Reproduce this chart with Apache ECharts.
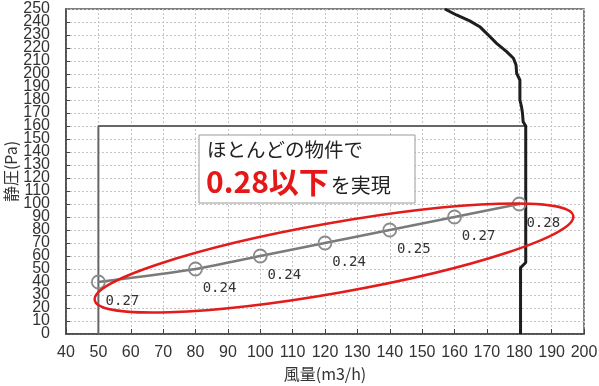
<!DOCTYPE html>
<html><head><meta charset="utf-8">
<script src="https://cdn.jsdelivr.net/npm/echarts@6/dist/echarts.min.js"></script>
<style>html,body{margin:0;padding:0;background:#fff}#c{width:599px;height:386px}</style>
</head><body><div id="c"></div>
<script>
// ---- data ----
const airflow = [50, 80, 100, 120, 140, 160, 180];
const staticPressure = [40, 50, 60, 70, 80, 90, 100];
const ratioLabels = ['0.27', '0.24', '0.24', '0.24', '0.25', '0.27', '0.28'];
const fanCurveX = [157.0, 160.6, 164.7, 167.8, 169.9, 173.0, 176.1, 178.2, 179.0, 179.2, 180.2, 180.2, 180.7, 181.0, 181.2, 182.0, 182.0, 180.4, 180.4];
const fanCurveY = [250, 245.4, 240.9, 236.4, 231.3, 223.6, 217.2, 212.1, 207, 200.5, 195.4, 180, 174.8, 169.8, 163.3, 160, 55, 51, 0];
const rangeX = [50, 50, 182];
const rangeY = [0, 160, 160];
const xMin = 40, xMax = 200, xStep = 10;
const yMin = 0, yMax = 250, yStep = 10;
const xName = '風量(m3/h)';
const yName = '静圧(Pa)';
const noteLine1 = 'ほとんどの物件で';
const noteHighlight = '0.28以下';
const noteTail = 'を実現';

const zip = (a, b) => a.map((v, i) => [v, b[i]]);
const tickFont = "'Liberation Sans Narrow', 'Liberation Sans', sans-serif";
const jpFont = "'Noto Sans CJK JP', sans-serif";
const yLabelStyle = {fontFamily: tickFont, fontSize: 16, color: '#333', margin: 16};

const chart = echarts.init(document.getElementById('c'), null, {renderer: 'canvas'});
chart.setOption({
  animation: false,
  backgroundColor: '#fff',
  grid: {left: 66, right: 15, top: 9, bottom: 52, show: true, borderColor: '#555', borderWidth: 1.5,
    backgroundColor: 'transparent', containLabel: false, outerBoundsMode: 'none'},
  xAxis: {
    type: 'value', min: xMin, max: xMax, interval: xStep,
    name: xName, nameLocation: 'middle', nameGap: 32,
    nameTextStyle: {fontFamily: jpFont, fontSize: 16, color: '#333'},
    axisLine: {lineStyle: {color: '#444', width: 1.5}},
    axisTick: {inside: true, length: 5, lineStyle: {color: '#444'}},
    axisLabel: {fontFamily: tickFont, fontSize: 16, color: '#333', margin: 11, showMinLabel: true, showMaxLabel: true, hideOverlap: false},
    splitLine: {lineStyle: {color: '#c4c4c4', type: [2, 2], width: 1}}
  },
  yAxis: [{
    type: 'value', min: yMin, max: yMax, interval: yStep,
    name: yName, nameLocation: 'middle', nameGap: 47, nameMoveOverlap: false,
    nameTextStyle: {fontFamily: jpFont, fontSize: 16, color: '#333'},
    axisLine: {show: true, lineStyle: {color: '#444', width: 1.5}},
    axisTick: {show: true, inside: true, length: 4, lineStyle: {color: '#444'}},
    axisLabel: Object.assign({showMinLabel: false, showMaxLabel: false, hideOverlap: false}, yLabelStyle),
    splitLine: {lineStyle: {color: '#c4c4c4', type: [2, 2], width: 1}}
  }, {
    type: 'value', min: yMin, max: yMax, interval: yMax - yMin, position: 'left',
    axisLine: {show: false}, axisTick: {show: false}, splitLine: {show: false},
    axisLabel: Object.assign({showMinLabel: true, showMaxLabel: true, hideOverlap: false}, yLabelStyle)
  }],
  series: [
    {
      type: 'line', data: zip(rangeX, rangeY), symbol: 'none', z: 2,
      lineStyle: {color: '#666', width: 2}
    },
    {
      type: 'line', data: zip(fanCurveX, fanCurveY), symbol: 'none', z: 3,
      lineStyle: {color: '#1e1e1e', width: 3}
    },
    {
      type: 'line', data: zip(airflow, staticPressure), smooth: 0.25, z: 4,
      symbol: 'circle', symbolSize: 13,
      lineStyle: {color: '#7a7a7a', width: 2.5},
      itemStyle: {color: 'rgba(255,255,255,0)', borderColor: '#8a8a8a', borderWidth: 1.8},
      label: {
        show: true, position: 'inside', offset: [24, 19],
        formatter: p => ratioLabels[p.dataIndex],
        fontFamily: "'DejaVu Sans Mono', monospace", fontSize: 14, color: '#333'
      }
    }
  ],
  graphic: [
    {type: 'rect', z: 50, shape: {x: 199, y: 135, width: 216, height: 68}, style: {fill: '#fff', stroke: '#9a9a9a', lineWidth: 1}},
    {type: 'text', z: 51, x: 207, y: 150, style: {text: noteLine1, font: "19.5px 'Noto Sans CJK JP'", fill: '#222', verticalAlign: 'middle'}},
    {type: 'text', z: 51, x: 206, y: 182, style: {
      text: '{a|' + noteHighlight + '}{b|' + noteTail + '}', verticalAlign: 'middle',
      rich: {
        a: {fontFamily: jpFont, fontSize: 30, fontWeight: 'bold', fill: '#e51717', color: '#e51717'},
        b: {fontFamily: jpFont, fontSize: 20, fill: '#222', color: '#222', padding: [6, 0, 0, 2]}
      }
    }},
    {type: 'ellipse', z: 60, x: 334, y: 258, rotation: 10 * Math.PI / 180,
      shape: {cx: 0, cy: 0, rx: 243, ry: 35}, style: {fill: 'none', stroke: '#e31b1b', lineWidth: 2.5}}
  ]
});
</script></body></html>
